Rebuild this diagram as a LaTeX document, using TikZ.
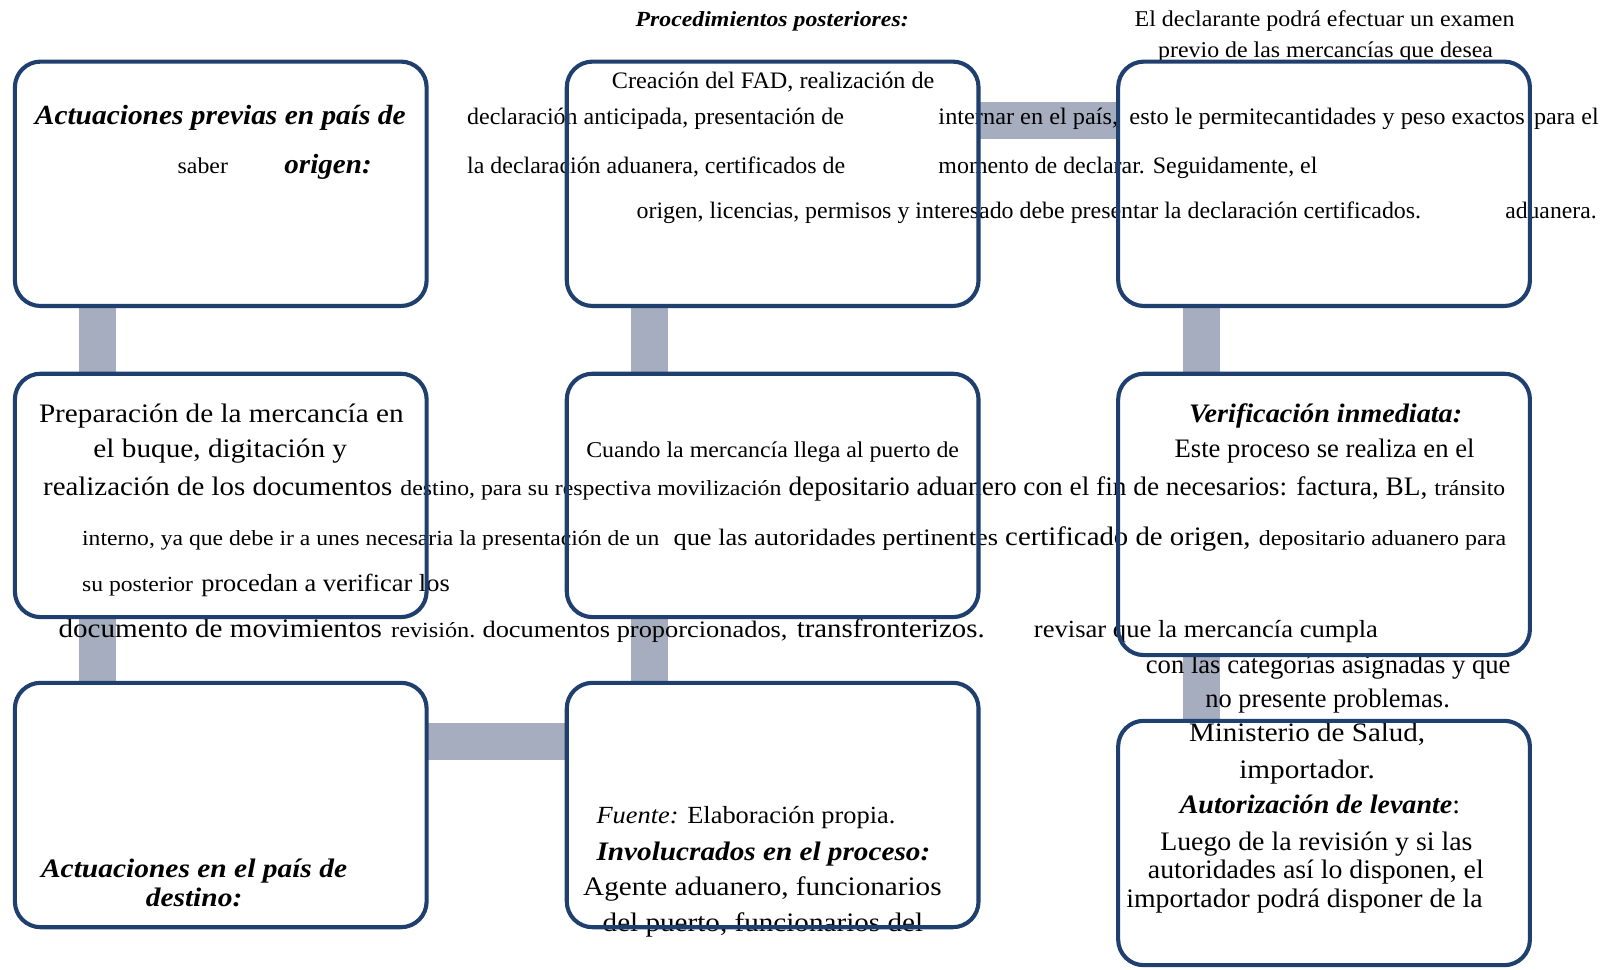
\documentclass[tikz,border=0pt]{standalone}
\usepackage{fontspec}
\setmainfont{Liberation Serif}
\usepackage{graphicx}
\pgfdeclarelayer{background}
\pgfdeclarelayer{foreground}
\pgfsetlayers{background,main,foreground}
\definecolor{boxblue}{RGB}{31,63,110}
\definecolor{conngray}{RGB}{166,173,190}
\newcommand\fs[1]{\fontsize{#1}{#1}\selectfont}
\newcommand\bi{\bfseries\itshape}
\newcommand\tline[6]{\node[txt] (#1) at (#2,#3) {\resizebox{#4pt}{\height}{#5#6}};}
\tikzset{
  stagebox/.style={draw=boxblue, line width=4pt, rounded corners=25pt, inner sep=0pt, outer sep=0pt, minimum width=401pt},
  conn/.style={draw=conngray, line width=36pt},
  txt/.style={anchor=base west, inner sep=0pt, outer sep=0pt}
}
\begin{document}
\begin{tikzpicture}[x=1pt,y=-1pt]
\useasboundingbox (0,0) rectangle (1568,944);
% boxes on top
\begin{pgfonlayer}{foreground}
\node[stagebox, minimum height=238pt] (b1) at (215,179) {};
\node[stagebox, minimum height=238pt] (b2) at (752.5,179) {};
\node[stagebox, minimum height=238pt] (b3) at (1289.5,179) {};
\node[stagebox, minimum height=237pt] (b4) at (215,482.5) {};
\node[stagebox, minimum height=237pt] (b5) at (752.5,482.5) {};
\node[stagebox, minimum height=274pt] (b6) at (1289.5,501) {};
\node[stagebox, minimum height=238pt] (b7) at (215,784) {};
\node[stagebox, minimum height=238pt] (b8) at (752.5,784) {};
\node[stagebox, minimum height=238pt] (b9) at (1289.5,821) {};
\end{pgfonlayer}
% connectors behind
\begin{pgfonlayer}{background}
\draw[conn] ([xshift=80.5pt]b1.south west) -- ([xshift=80.5pt]b4.north west);
\draw[conn] ([xshift=80.5pt]b4.south west) -- ([xshift=80.5pt]b7.north west);
\draw[conn] ([xshift=81pt]b2.south west) -- ([xshift=81pt]b5.north west);
\draw[conn] ([xshift=81pt]b5.south west) -- ([xshift=81pt]b8.north west);
\draw[conn] ([xshift=81pt]b3.south west) -- ([xshift=81pt]b6.north west);
\draw[conn] ([xshift=81pt]b6.south west) -- ([xshift=81pt]b9.north west);
\draw[conn] ([yshift=-57.5pt]b2.north east) -- ([yshift=-57.5pt]b3.north west);
\draw[conn] ([yshift=-57pt]b7.north east) -- ([yshift=-57pt]b8.north west);
\end{pgfonlayer}
% texts
\tline{t1}{619}{26}{266}{\fs{21}\bi}{Procedimientos posteriores:}
\tline{t2}{1105}{26}{370}{\fs{22}}{El declarante podrá efectuar un examen}
\tline{t3}{1128}{56}{326}{\fs{22}}{previo de las mercancías que desea}
\tline{t4}{34}{121}{361}{\fs{27}\bi}{Actuaciones previas en país de}
\tline{t5}{173}{169}{49}{\fs{22}}{saber}
\tline{t6}{277}{169}{85}{\fs{27}\bi}{origen:}
\tline{t7}{596}{86}{314}{\fs{23}}{Creación del FAD, realización de}
\tline{t8}{455}{121}{367}{\fs{23}}{declaración anticipada, presentación de}
\tline{t9}{455}{169}{368}{\fs{23}}{la declaración aduanera, certificados de}
\tline{t10}{620}{213}{764}{\fs{23}}{origen, licencias, permisos y interesado debe presentar la declaración certificados.}
\tline{t11}{1466}{213}{89}{\fs{23}}{aduanera.}
\tline{t12}{914}{121}{175}{\fs{23}}{internar en el país,}
\tline{t13}{1100}{121}{385}{\fs{23}}{esto le permitecantidades y peso exactos}
\tline{t14}{1494}{121}{63}{\fs{23}}{para el}
\tline{t15}{914}{169}{369}{\fs{23}}{momento de declarar. Seguidamente, el}
\tline{t16}{38}{411}{355}{\fs{26}}{Preparación de la mercancía en}
\tline{t17}{91}{446}{247}{\fs{26}}{el buque, digitación y}
\tline{t18}{42}{483}{340}{\fs{26}}{realización de los documentos}
\tline{t19}{390}{483}{371}{\fs{21}}{destino, para su respectiva movilización}
\tline{t20}{768}{483}{622}{\fs{26}}{depositario aduanero con el fin de necesarios: factura, BL,}
\tline{t21}{1397}{483}{69}{\fs{21}}{tránsito}
\tline{t22}{80}{531}{562}{\fs{21}}{interno, ya que debe ir a unes necesaria la presentación de un}
\tline{t23}{656}{531}{316}{\fs{23}}{que las autoridades pertinentes}
\tline{t24}{979}{531}{239}{\fs{26}}{certificado de origen,}
\tline{t25}{1226}{531}{241}{\fs{21}}{depositario aduanero para}
\tline{t26}{80}{576}{108}{\fs{21}}{su posterior}
\tline{t27}{196}{576}{242}{\fs{24}}{procedan a verificar los}
\tline{t28}{57}{621}{315}{\fs{26}}{documento de movimientos}
\tline{t29}{381}{621}{82}{\fs{21}}{revisión.}
\tline{t30}{470}{621}{297}{\fs{23}}{documentos proporcionados,}
\tline{t31}{776}{621}{183}{\fs{26}}{transfronterizos.}
\tline{t32}{1007}{621}{335}{\fs{24}}{revisar que la mercancía cumpla}
\tline{t33}{571}{446}{363}{\fs{22}}{Cuando la mercancía llega al puerto de}
\tline{t34}{1158}{411}{266}{\fs{26}\bi}{Verificación inmediata:}
\tline{t35}{1144}{446}{292}{\fs{26}}{Este proceso se realiza en el}
\tline{t36}{1116}{656}{355}{\fs{26}}{con las categorías asignadas y que}
\tline{t37}{1174}{689}{238}{\fs{26}}{no presente problemas.}
\tline{t38}{40}{855}{298}{\fs{26}\bi}{Actuaciones en el país de}
\tline{t39}{142}{883}{94}{\fs{26}\bi}{destino:}
\tline{t40}{581}{802}{291}{\fs{24}}{{\itshape Fuente:} Elaboración propia.}
\tline{t41}{581}{838}{325}{\fs{26}\bi}{Involucrados en el proceso:}
\tline{t42}{568}{872}{349}{\fs{26}}{Agente aduanero, funcionarios}
\tline{t43}{587}{907}{312}{\fs{26}}{del puerto, funcionarios del}
\tline{t44}{1158}{722}{230}{\fs{26}}{Ministerio de Salud,}
\tline{t45}{1207}{758}{132}{\fs{26}}{importador.}
\tline{t46}{1149}{792}{273}{\fs{26}}{{\bi Autorización de levante}:}
\tline{t47}{1130}{828}{304}{\fs{26}}{Luego de la revisión y si las}
\tline{t48}{1118}{856}{327}{\fs{26}}{autoridades así lo disponen, el}
\tline{t49}{1097}{884}{347}{\fs{26}}{importador podrá disponer de la}
\end{tikzpicture}
\end{document}
